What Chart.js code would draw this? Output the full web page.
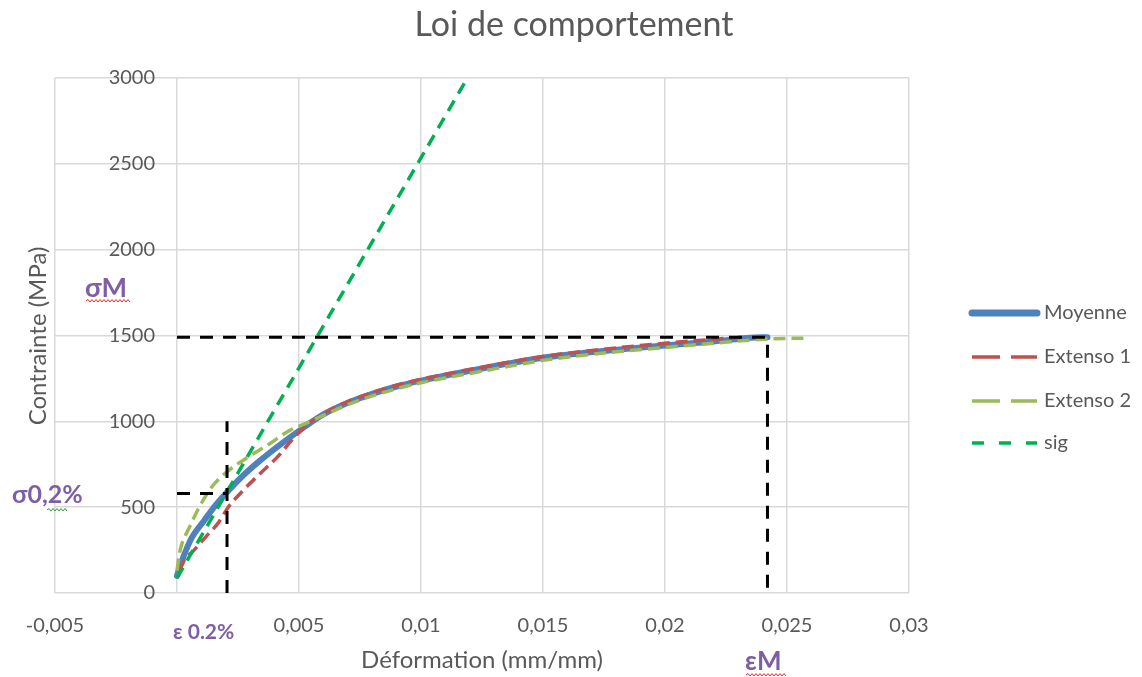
<!DOCTYPE html>
<html><head><meta charset="utf-8">
<script src="https://cdn.jsdelivr.net/npm/chart.js@4.4.1/dist/chart.umd.min.js"></script>
<style>html,body{margin:0;padding:0;background:#fff}#wrap{width:1142px;height:677px}</style>
</head><body><div id="wrap"><canvas id="c" width="1142" height="677"></canvas></div>
<script>
const chartTitle = 'Loi de comportement';
const xAxisTitle = 'Déformation (mm/mm)';
const yAxisTitle = 'Contrainte (MPa)';
const seriesNames = ['Moyenne', 'Extenso 1', 'Extenso 2', 'sig'];

const moyenneX = [0, 0.0002, 0.0006, 0.0011, 0.0016, 0.002, 0.0027, 0.0034, 0.0043, 0.0052, 0.006, 0.007, 0.008, 0.009, 0.01, 0.0125, 0.015, 0.0175, 0.02, 0.022, 0.0235, 0.0242];
const moyenneY = [100, 187, 321, 420, 515, 580, 683, 771, 872, 965, 1040, 1108, 1160, 1203, 1237, 1308, 1370, 1410, 1442, 1465, 1487, 1490];

const extenso1X = [0.0001, 0.0003, 0.0007, 0.0012, 0.0017, 0.0021, 0.0027, 0.0034, 0.0041, 0.0047, 0.0053, 0.006, 0.007, 0.008, 0.009, 0.01, 0.0125, 0.015, 0.0175, 0.02, 0.022, 0.0232];
const extenso1Y = [130, 190, 250, 330, 410, 500, 596, 695, 790, 890, 975, 1045, 1115, 1167, 1210, 1245, 1315, 1378, 1420, 1455, 1478, 1490];

const extenso2X = [0, 0.0001, 0.0002, 0.0005, 0.0009, 0.0014, 0.002, 0.003, 0.0038, 0.0046, 0.0053, 0.006, 0.007, 0.008, 0.009, 0.01, 0.0125, 0.015, 0.0175, 0.02, 0.022, 0.024, 0.0258];
const extenso2Y = [130, 230, 286, 380, 497, 613, 700, 800, 870, 946, 990, 1035, 1098, 1148, 1190, 1225, 1292, 1355, 1398, 1430, 1455, 1478, 1485];

const sigX = [0, 0.0119];
const sigY = [88, 3000];

// black dashed guide lines (sigma M / epsilon M and sigma 0,2% / epsilon 0,2%)
const guideMX = [0, 0.0242, 0.0242];
const guideMY = [1490, 1490, 0];
const guide02HX = [0, 0.00205];
const guide02HY = [580, 580];
const guide02VX = [0.00205, 0.00205];
const guide02VY = [0, 1000];

const xTickLabels = ['-0,005', '0', '0,005', '0,01', '0,015', '0,02', '0,025', '0,03'];
const yTickLabels = ['0', '500', '1000', '1500', '2000', '2500', '3000'];

const annotationTexts = ['σM', 'σ0,2%', 'ε 0.2%', 'εM'];

function pts(xs, ys) { return xs.map((x, i) => ({x: x, y: ys[i]})); }

const GREY = '#595959';
const PURPLE = '#7D5FA6';
const FONT = 'Lato';

const datasets = [
  {label: seriesNames[0], data: pts(moyenneX, moyenneY), borderColor: '#4F81BD', borderWidth: 6,
   borderCapStyle: 'round', borderJoinStyle: 'round', order: 4, legendDash: [], legendWidth: 7, legend: true},
  {label: seriesNames[1], data: pts(extenso1X, extenso1Y), borderColor: '#C0504D', borderWidth: 3.5,
   borderDash: [12, 6], order: 3, legendDash: [28, 11], legendWidth: 3.5, legend: true},
  {label: seriesNames[2], data: pts(extenso2X, extenso2Y), borderColor: '#9BBB59', borderWidth: 3.5,
   borderDash: [12, 6], order: 2, legendDash: [28, 11], legendWidth: 3.5, legend: true},
  {label: seriesNames[3], data: pts(sigX, sigY), borderColor: '#00B050', borderWidth: 3.5,
   borderDash: [12, 8], order: 1, legendDash: [12, 15], legendWidth: 3.5, legend: true},
  {label: 'gM', data: pts(guideMX, guideMY), borderColor: '#000', borderWidth: 3, borderDash: [13, 10], order: 0, tension: 0},
  {label: 'g02h', data: pts(guide02HX, guide02HY), borderColor: '#000', borderWidth: 3, borderDash: [13, 10], order: 0, tension: 0},
  {label: 'g02v', data: pts(guide02VX, guide02VY), borderColor: '#000', borderWidth: 3, borderDash: [13, 10], order: 0, tension: 0}
];
datasets.forEach(d => { d.pointRadius = 0; d.fill = false; d.showLine = true; if (d.legend) d.cubicInterpolationMode = 'monotone'; });

function squiggle(ctx, x0, x1, y, color) {
  ctx.save();
  ctx.strokeStyle = color; ctx.lineWidth = 1; ctx.setLineDash([]);
  ctx.beginPath();
  let up = true;
  ctx.moveTo(x0, y);
  for (let x = x0 + 2; x <= x1; x += 2) { ctx.lineTo(x, up ? y - 1.5 : y + 1); up = !up; }
  ctx.stroke();
  ctx.restore();
}

const extras = {
  id: 'extras',
  afterDraw(chart) {
    const ctx = chart.ctx;
    // titles
    ctx.save();
    ctx.fillStyle = GREY;
    ctx.textAlign = 'center'; ctx.textBaseline = 'middle';
    ctx.font = '34px ' + FONT;
    ctx.fillText(chartTitle, 574, 25);
    ctx.font = '24px ' + FONT;
    ctx.fillText(xAxisTitle, 482, 660);
    ctx.translate(38, 336); ctx.rotate(-Math.PI / 2);
    ctx.fillText(yAxisTitle, 0, 0);
    ctx.restore();

    // legend
    ctx.save();
    const legendY = [313, 357, 401, 443];
    let k = 0;
    chart.data.datasets.forEach(d => {
      if (!d.legend) return;
      const y = legendY[k++];
      ctx.strokeStyle = d.borderColor; ctx.lineWidth = d.legendWidth;
      ctx.lineCap = d.legendDash.length ? 'butt' : 'round';
      ctx.setLineDash(d.legendDash);
      ctx.beginPath(); ctx.moveTo(972, y); ctx.lineTo(1037, y); ctx.stroke();
      ctx.setLineDash([]);
      ctx.fillStyle = GREY; ctx.font = '20px ' + FONT;
      ctx.textAlign = 'left'; ctx.textBaseline = 'middle';
      ctx.fillText(d.label, 1044, y);
    });
    ctx.restore();

    // annotations
    ctx.save();
    ctx.textBaseline = 'middle';
    ctx.fillStyle = PURPLE;
    ctx.font = 'bold 27px ' + FONT; ctx.textAlign = 'left';
    ctx.fillText(annotationTexts[0], 85, 288);
    squiggle(ctx, 86, 130, 301, '#E0302A');
    ctx.font = 'bold 25px ' + FONT;
    ctx.fillText(annotationTexts[1], 12, 495);
    squiggle(ctx, 47, 68, 510, '#30A030');
    // epsilon 0.2% with white background (covers the 0 label)
    ctx.fillStyle = '#fff';
    ctx.fillRect(164, 612, 84, 34);
    ctx.fillStyle = PURPLE;
    ctx.font = 'bold 21px ' + FONT;
    ctx.fillText(annotationTexts[2], 173, 632);
    ctx.font = 'bold 26px ' + FONT;
    ctx.fillText(annotationTexts[3], 745, 662);
    squiggle(ctx, 746, 786, 675, '#E0302A');
    ctx.restore();
  }
};

new Chart(document.getElementById('c'), {
  type: 'scatter',
  data: {datasets: datasets},
  plugins: [extras],
  options: {
    responsive: false, animation: false, devicePixelRatio: 1,
    layout: {padding: {left: 55, right: 233, top: 78, bottom: 18}},
    plugins: {
      legend: {display: false}, tooltip: {enabled: false}, title: {display: false}
    },
    scales: {
      x: {type: 'linear', position: 'bottom', min: -0.005, max: 0.03,
          ticks: {stepSize: 0.005, autoSkip: false, maxRotation: 0, padding: 21, color: GREY,
                  font: {family: FONT, size: 20}, callback: (v, i) => xTickLabels[i]},
          grid: {color: '#d9d9d9', lineWidth: 1.5, drawTicks: false},
          border: {display: false}},
      y: {type: 'linear', position: {x: -0.0009}, min: 0, max: 3000,
          ticks: {stepSize: 500, color: GREY, font: {family: FONT, size: 20}, callback: (v, i) => yTickLabels[i]},
          grid: {color: '#d9d9d9', lineWidth: 1.5, drawTicks: false},
          border: {display: false}}
    }
  }
});
</script></body></html>
